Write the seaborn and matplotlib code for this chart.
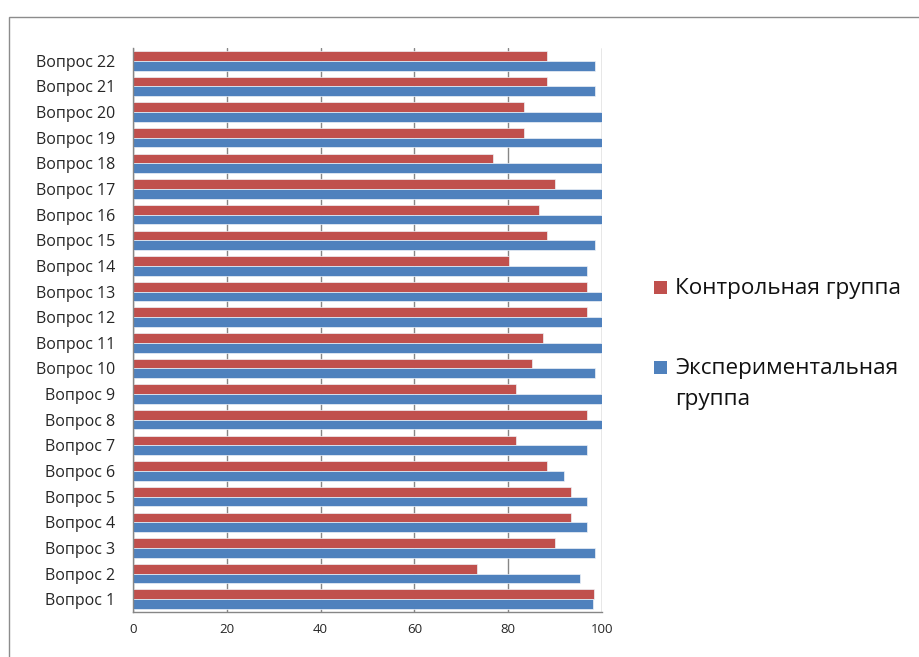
import numpy as np
import pandas as pd
import seaborn as sns
import matplotlib.pyplot as plt
from matplotlib.patches import Rectangle

# data, Вопрос 1 .. Вопрос 22
questions = [f"Вопрос {i}" for i in range(1, 23)]
control = [98.4, 73.4, 90.0, 93.4, 93.4, 88.3, 81.7, 96.7, 81.7, 85.1, 87.4,
           96.7, 96.7, 80.2, 88.3, 86.6, 90.0, 76.7, 83.4, 83.4, 88.3, 88.3]
experimental = [98.1, 95.3, 98.5, 96.9, 96.9, 92.0, 96.9, 100, 100, 98.5, 100,
                100, 100, 96.9, 98.5, 100, 100, 100, 100, 100, 98.5, 98.5]
groups = ["Контрольная группа", "Экспериментальная группа"]
legend_labels = ["Контрольная группа", "Экспериментальная\nгруппа"]
x_ticks = [0, 20, 40, 60, 80, 100]

red = "#C0504D"
blue = "#4F81BD"
grid_col = "#868686"

df = pd.DataFrame({
    "question": questions * 2,
    "value": control + experimental,
    "group": [groups[0]] * 22 + [groups[1]] * 22,
})

sns.set_style("white")
plt.rcParams["font.family"] = ["Open Sans", "DejaVu Sans"]

W, H = 920, 657
fig = plt.figure(figsize=(9.2, 6.57), dpi=100)
ax = fig.add_axes([133 / W, 1 - 612 / H, (602 - 133) / W, (612 - 48) / H])

order = questions[::-1]
sns.barplot(data=df, y="question", x="value", hue="group", order=order,
            hue_order=groups, palette=[red, blue], saturation=1, orient="h",
            width=0.76, edgecolor="#eef2f8", linewidth=0.5, legend=False, ax=ax)

ax.set_xlim(0, 100)
ax.set_ylim(len(order) - 0.5, -0.5)
ax.set_xticks(x_ticks)
ax.set_xticklabels([str(t) for t in x_ticks], fontsize=9.5)
ax.set_xlabel("")
ax.set_ylabel("")
ax.tick_params(axis="y", labelsize=11.5, length=0, pad=13)
ax.tick_params(axis="x", length=0, pad=8)
ax.set_yticks(np.arange(-0.5, len(order), 1), minor=True)
ax.tick_params(axis="y", which="minor", length=5, color=grid_col, width=1)

ax.grid(axis="x", color=grid_col, linewidth=1)
ax.set_axisbelow(True)
for side in ["top", "right"]:
    ax.spines[side].set_visible(False)
for side in ["left", "bottom"]:
    ax.spines[side].set_color(grid_col)
    ax.spines[side].set_linewidth(1)

# legend drawn by hand: square aligned with first text line (Excel style)
for (label, color, yc) in zip(legend_labels, [red, blue], [287, 367]):
    fig.patches.append(Rectangle((654 / W, 1 - (yc + 6.5) / H), 13 / W, 13 / H,
                                 transform=fig.transFigure, facecolor=color,
                                 edgecolor="none"))
    fig.text(675 / W, 1 - (yc - 9) / H, label, fontsize=16.2, va="top",
             ha="left", linespacing=1.6, color="#111111")

# outer chart-area border
fig.patches.append(Rectangle((9 / W, -0.05), 1.1, 1 - 17 / H + 0.05,
                             transform=fig.transFigure, fill=False,
                             edgecolor="#8c8c8c", linewidth=1))

fig.savefig("out.png", dpi=100)
